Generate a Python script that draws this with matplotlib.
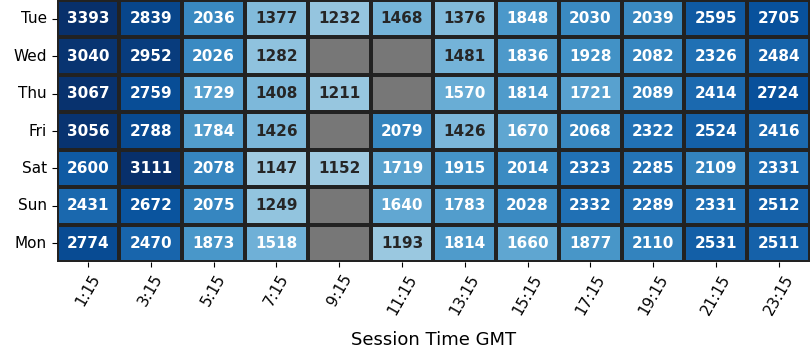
import numpy as np
import pandas as pd
import matplotlib
matplotlib.use("Agg")
import matplotlib.pyplot as plt
import seaborn as sns

days = ["Tue", "Wed", "Thu", "Fri", "Sat", "Sun", "Mon"]
sessions = ["1:15", "3:15", "5:15", "7:15", "9:15", "11:15", "13:15",
            "15:15", "17:15", "19:15", "21:15", "23:15"]
nan = np.nan
tue = [3393, 2839, 2036, 1377, 1232, 1468, 1376, 1848, 2030, 2039, 2595, 2705]
wed = [3040, 2952, 2026, 1282, nan, nan, 1481, 1836, 1928, 2082, 2326, 2484]
thu = [3067, 2759, 1729, 1408, 1211, nan, 1570, 1814, 1721, 2089, 2414, 2724]
fri = [3056, 2788, 1784, 1426, nan, 2079, 1426, 1670, 2068, 2322, 2524, 2416]
sat = [2600, 3111, 2078, 1147, 1152, 1719, 1915, 2014, 2323, 2285, 2109, 2331]
sun = [2431, 2672, 2075, 1249, nan, 1640, 1783, 2028, 2332, 2289, 2331, 2512]
mon = [2774, 2470, 1873, 1518, nan, 1193, 1814, 1660, 1877, 2110, 2531, 2511]

df = pd.DataFrame([tue, wed, thu, fri, sat, sun, mon], index=days, columns=sessions)

fig = plt.figure(figsize=(8.1, 3.6), dpi=100)
ax = fig.add_axes([0.070, 0.272, 0.930, 0.728])
ax.set_facecolor("#777777")
sns.heatmap(df, ax=ax, cmap="Blues", vmin=0, vmax=3100, annot=True, fmt=".0f",
            annot_kws={"fontsize": 11, "fontweight": "bold"},
            linewidths=1.5, linecolor="#222222", cbar=False)
ax.set_xticklabels(sessions, rotation=60, fontsize=11)
ax.set_yticklabels(days, rotation=0, fontsize=11)
ax.set_xlabel("Session Time GMT", fontsize=13, labelpad=10)
ax.set_ylabel("")
fig.savefig("out.png", dpi=100)
